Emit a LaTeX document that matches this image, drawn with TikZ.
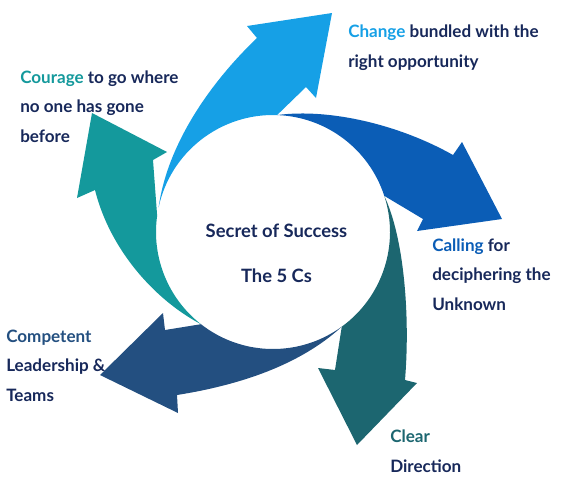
\documentclass[tikz,border=0pt]{standalone}
\usepackage{fontspec}
\setmainfont{Lato}
\usetikzlibrary{calc}

\definecolor{textcol}{HTML}{17285A}
\definecolor{changecol}{HTML}{16A0E6}
\definecolor{callingcol}{HTML}{0B5DB6}
\definecolor{clearcol}{HTML}{1C6670}
\definecolor{competentcol}{HTML}{234F80}
\definecolor{couragecol}{HTML}{14999C}

\tikzset{
  lbl/.style={anchor=base west, align=left, inner sep=0pt, text=textcol,
    font=\bfseries\fontsize{12.8}{22}\selectfont},
  titlelbl/.style={anchor=base, align=center, inner sep=0pt, text=textcol,
    font=\bfseries\fontsize{13.8}{33.75}\selectfont},
}

\begin{document}
\begin{tikzpicture}[x=0.75pt,y=-0.75pt]
  \useasboundingbox (0,0) rectangle (565,487);
  \coordinate (c) at (273,232);
  \def\rad{117}
  % Change arrow
  \fill[changecol] ($(c)+(192:\rad)$) arc[start angle=192, end angle=272, radius=\rad]
    -- (306,87) -- (316,98) -- (332,13) -- (247,26) -- (257,38)
    .. controls (215,78) and (168,140) .. cycle;
  % Calling arrow
  \fill[callingcol] ($(c)+(272:\rad)$) arc[start angle=272, end angle=342, radius=\rad]
    -- (423,219) -- (417,231) -- (502,219) -- (462,142) -- (453,155)
    .. controls (400,125) and (330,108) .. cycle;
  % Clear arrow
  \fill[clearcol] ($(c)+(342:\rad)$) arc[start angle=342, end angle=414, radius=\rad]
    -- (335,370) -- (318,368) -- (357,445) -- (417,383) -- (405,380)
    .. controls (410,320) and (405,240) .. cycle;
  % Competent arrow
  \fill[competentcol] ($(c)+(54:\rad)$) arc[start angle=54, end angle=128, radius=\rad]
    -- (165,330) -- (163,313) -- (100,375) -- (178,413) -- (177,395)
    .. controls (240,385) and (300,365) .. cycle;
  % Courage arrow
  \fill[couragecol] ($(c)+(128:\rad)$) arc[start angle=128, end angle=188, radius=\rad]
    -- (153,160) -- (167,152) -- (92,113) -- (77,198) -- (95,190)
    .. controls (110,250) and (155,300) .. cycle;

  % base anchor sits on the last line
  \node[titlelbl] (title) at (276.5,282) {Secret of Success\\The 5 Cs};
  \node[lbl] (change) at (348,67) {\textcolor{changecol}{Change} bundled with the\\right opportunity};
  \node[lbl] (courage) at (20,142) {\textcolor{couragecol}{Courage} to go where\\no one has gone\\before};
  \node[lbl] (calling) at (432,310) {\textcolor{callingcol}{Calling} for\\deciphering the\\Unknown};
  \node[lbl] (competent) at (6,401) {\textcolor{competentcol}{Competent}\\Leadership \&\\Teams};
  \node[lbl] (clear) at (390,472) {\textcolor{clearcol}{Clear}\\Direction};
\end{tikzpicture}
\end{document}
